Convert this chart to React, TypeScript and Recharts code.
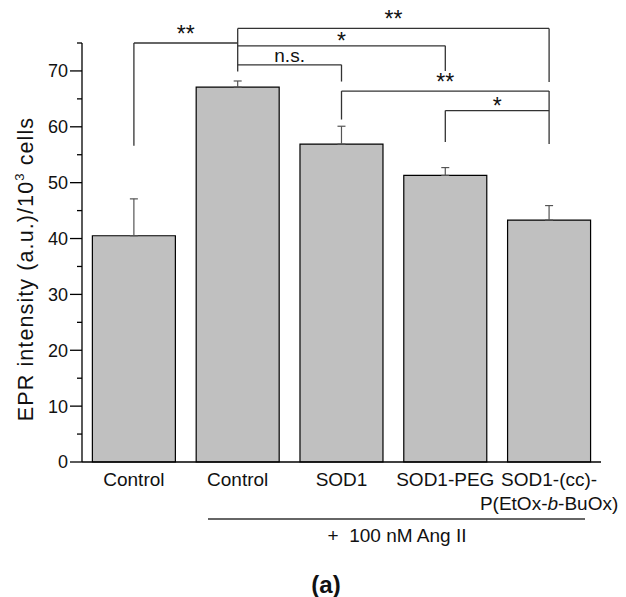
import { BarChart, Bar, XAxis, YAxis, ErrorBar, ReferenceLine } from 'recharts';

// groups along the x axis (keys are unique, labels are not)
const categories = ['ctrl', 'ang', 'sod1', 'sodPeg', 'sodCc'];
const categoryLabels = [['Control'], ['Control'], ['SOD1'], ['SOD1-PEG'], ['SOD1-(cc)-', 'P(EtOx-b-BuOx)']];
const eprValues = [40.5, 67.1, 56.9, 51.3, 43.3];
const eprErrors = [6.6, 1.1, 3.2, 1.4, 2.6];
const yTicks = [0, 5, 10, 15, 20, 25, 30, 35, 40, 45, 50, 55, 60, 65, 70, 75];

// significance brackets: from/to category, bar level, leg bottoms (y values)
const brackets = [
  { from: 'ctrl', to: 'ang', level: 75, leftEnd: 56.6, rightEnd: null, text: '**' },
  { from: 'ang', to: 'sodCc', level: 77.6, leftEnd: 69.9, rightEnd: 68.0, text: '**' },
  { from: 'ang', to: 'sodPeg', level: 74.5, leftEnd: null, rightEnd: 70.0, text: '*' },
  { from: 'ang', to: 'sod1', level: 71.1, leftEnd: null, rightEnd: 68.1, text: 'n.s.' },
  { from: 'sod1', to: 'sodCc', level: 66.4, leftEnd: 61.3, rightEnd: 56.9, text: '**' },
  { from: 'sodPeg', to: 'sodCc', level: 62.9, leftEnd: 57.3, rightEnd: null, text: '*' },
];

const rows = categories.map((key, i) => ({
  key,
  value: eprValues[i],
  err: [0, eprErrors[i]],
}));

const FONT = '"Liberation Sans", Arial, Helvetica, sans-serif';
const LINE = '#333';

const YTick = ({ x, y, payload }: any) => {
  const major = payload.value % 10 === 0;
  return (
    <g>
      <line x1={x - (major ? 12 : 5)} x2={x} y1={y} y2={y} stroke="#000" strokeWidth={1.3} />
      {major && payload.value !== 75 && (
        <text x={x - 14} y={y} dy="0.36em" textAnchor="end" fontSize={18} fill="#111" fontFamily={FONT}>
          {payload.value}
        </text>
      )}
    </g>
  );
};

const renderLine = (line: string) => {
  if (!line.includes('-b-')) return line;
  const [a, b] = line.split('-b-');
  return [
    <tspan key="a">{a}-</tspan>,
    <tspan key="b" fontStyle="italic">b</tspan>,
    <tspan key="c">-{b}</tspan>,
  ];
};

const XTick = ({ x, y, payload }: any) => {
  const idx = categories.indexOf(payload.value);
  const lines = categoryLabels[idx] || [];
  return (
    <g>
      {lines.map((ln, i) => (
        <text key={i} x={x} y={y + 24 + i * 24} textAnchor="middle" fontSize={19} fill="#111" fontFamily={FONT}>
          {renderLine(ln)}
        </text>
      ))}
    </g>
  );
};

const sigLabel = (text: string) => (props: any) => {
  const vb = props.viewBox || {};
  const cx = vb.x + (vb.width || 0) / 2;
  const star = text.includes('*');
  const base = text === 'n.s.' ? vb.y - 3 : text === '**' ? vb.y - 1 : vb.y + 3;
  return (
    <text x={cx} y={base} textAnchor="middle" fontSize={star ? 23 : 19} fill="#111" fontFamily={FONT}>
      {text}
    </text>
  );
};

// rotated axis title, centred a little below the middle of the axis like the original
const YLabel = () => {
  const x = 33;
  const y = 269;
  return (
    <text transform={`rotate(-90, ${x}, ${y})`} x={x} y={y} textAnchor="middle" fontSize={21.5}
      letterSpacing={1.1} fill="#111" fontFamily={FONT}>
      EPR intensity (a.u.)/10<tspan dy={-9} fontSize={13}>3</tspan><tspan dy={9}> cells</tspan>
    </text>
  );
};

const bracketLines = brackets.flatMap((b, i) => {
  const out = [
    <ReferenceLine key={`h${i}`} segment={[{ x: b.from, y: b.level }, { x: b.to, y: b.level }]}
      stroke={LINE} strokeWidth={1.3} ifOverflow="visible" label={sigLabel(b.text)} />,
  ];
  if (b.leftEnd != null) {
    out.push(
      <ReferenceLine key={`l${i}`} segment={[{ x: b.from, y: b.level }, { x: b.from, y: b.leftEnd }]}
        stroke={LINE} strokeWidth={1.3} ifOverflow="visible" />
    );
  }
  if (b.rightEnd != null) {
    out.push(
      <ReferenceLine key={`r${i}`} segment={[{ x: b.to, y: b.level }, { x: b.to, y: b.rightEnd }]}
        stroke={LINE} strokeWidth={1.3} ifOverflow="visible" />
    );
  }
  return out;
});

export default function App() {
  return (
    <div style={{ position: 'absolute', left: 0, top: 0, width: 626, height: 597, background: '#fff', fontFamily: FONT }}>
      <BarChart width={626} height={597} data={rows} barCategoryGap="10%"
        margin={{ top: 43, right: 25, bottom: 105, left: 0 }}>
        <XAxis dataKey="key" height={30} interval={0} tickLine={false} tickSize={0} tickMargin={0}
          tick={<XTick />} axisLine={{ stroke: '#000', strokeWidth: 1.3 }} />
        <YAxis domain={[0, 75]} ticks={yTicks} width={82} interval={0} tickLine={false} tickSize={0} tickMargin={0}
          tick={<YTick />} axisLine={{ stroke: '#000', strokeWidth: 1.3 }} label={<YLabel />} />
        <Bar dataKey="value" fill="#c0c0c0" stroke="#000" strokeWidth={1.2} isAnimationActive={false}>
          <ErrorBar dataKey="err" direction="y" width={4} stroke="#555" strokeWidth={1.2} />
        </Bar>
        {bracketLines}
      </BarChart>
      <svg width={626} height={597} style={{ position: 'absolute', left: 0, top: 0, pointerEvents: 'none' }}>
        <line x1={208} x2={585} y1={519} y2={519} stroke={LINE} strokeWidth={1.3} />
        <text x={397} y={542} textAnchor="middle" fontSize={19} fill="#111" fontFamily={FONT}>{'+\u00a0\u00a0100 nM Ang II'}</text>
        <text x={326} y={593} textAnchor="middle" fontSize={24} fontWeight="bold" fill="#111" fontFamily={FONT}>(a)</text>
      </svg>
    </div>
  );
}
